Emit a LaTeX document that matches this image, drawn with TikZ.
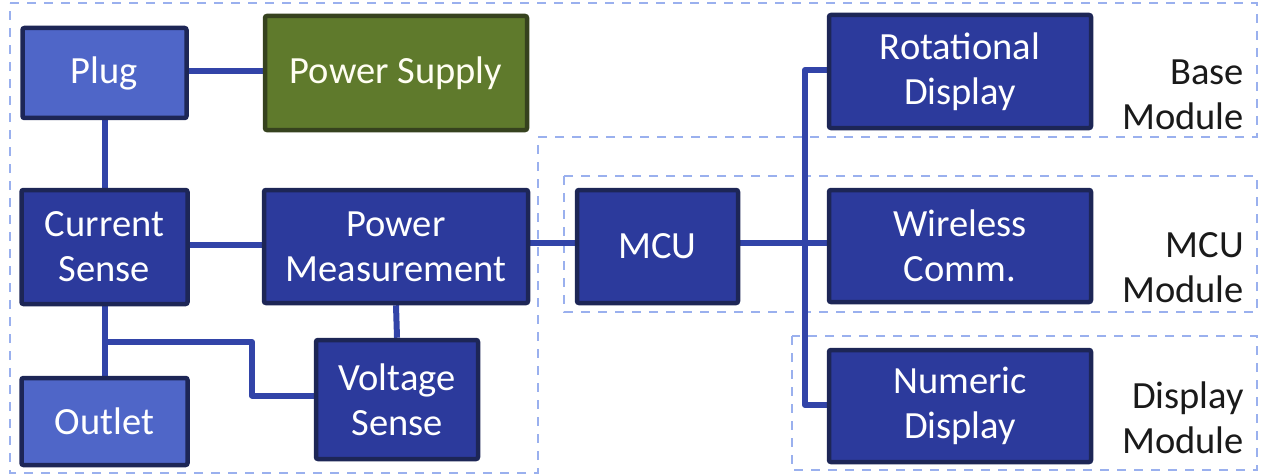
\documentclass[tikz,border=0pt]{standalone}
\usepackage{fontspec}
\setmainfont{Carlito}
\usetikzlibrary{calc,backgrounds}

\definecolor{lightfill}{HTML}{4F66C8}
\definecolor{darkfill}{HTML}{2C3A9C}
\definecolor{boxedge}{HTML}{1D2656}
\definecolor{supplyfill}{HTML}{5F7A2C}
\definecolor{supplyedge}{HTML}{36421E}
\definecolor{wire}{HTML}{3244A8}
\definecolor{zone}{HTML}{9AB0EE}
\definecolor{labeltext}{HTML}{1A1A1A}

\tikzset{
  blk/.style={draw=boxedge, line width=4.5pt, rounded corners=2pt, fill=darkfill,
    text=white, align=center, inner sep=0pt,
    font=\fontsize{38.5}{45}\selectfont},
  lightblk/.style={blk, fill=lightfill},
  supplyblk/.style={blk, draw=supplyedge, fill=supplyfill, text=white!95!yellow},
  conn/.style={draw=wire, line width=6pt, line join=round},
  zoneline/.style={draw=zone, line width=1.6pt, dash pattern=on 9pt off 8pt},
  modlabel/.style={anchor=east, align=right, text=labeltext, inner sep=0pt,
    font=\fontsize{38.5}{45}\selectfont}
}

\begin{document}
\begin{tikzpicture}[x=1pt,y=-1pt]
\useasboundingbox (0,0) rectangle (1265,476);

% functional blocks
\node[lightblk, minimum width=164pt, minimum height=90pt] (plug) at (104.5,73) {Plug};
\node[supplyblk, minimum width=262pt, minimum height=114pt] (ps) at (396,73) {Power Supply};
\node[blk, minimum width=166pt, minimum height=114pt] (cs) at (104.5,247) {Current\\Sense};
\node[blk, minimum width=264pt, minimum height=113pt] (pm) at (396,246.5) {Power\\Measurement};
\node[lightblk, minimum width=166pt, minimum height=87pt] (outlet) at (104.5,421.5) {Outlet};
\node[blk, minimum width=162pt, minimum height=119pt] (vs) at (397,399.5) {Voltage\\Sense};
\node[blk, minimum width=161pt, minimum height=113pt] (mcu) at (657.5,246.5) {MCU};
\node[blk, minimum width=262pt, minimum height=113pt] (rd) at (960,71.5) {Rotational\\Display};
\node[blk, minimum width=262pt, minimum height=112pt] (wc) at (960,246) {Wireless\\Comm.};
\node[blk, minimum width=262pt, minimum height=112pt] (nd) at (960,406) {Numeric\\Display};

% module labels
\node[modlabel] (lbase) at (1244,95) {Base\\Module};
\node[modlabel] (lmcu) at (1244,268) {MCU\\Module};
\node[modlabel] (ldisp) at (1244,418) {Display\\Module};

% routing points
\coordinate (j) at (104.5,342);
\coordinate (bend) at (252,342);
\coordinate (bus) at (805,240);

\begin{pgfonlayer}{background}
  % module outlines
  \draw[zoneline] (10,3) -- (1257,3) -- (1257,137) -- (538,137) -- (538,473) -- (10,473) -- cycle;
  \draw[zoneline] (564,176) rectangle (1257,312);
  \draw[zoneline] (792,336) rectangle (1257,470);

  % connections
  \draw[conn] (plug.east |- 0,71) -- (ps.west |- 0,71);
  \draw[conn] (plug.south) -- (cs.north);
  \draw[conn] (cs.east |- 0,245) -- (pm.west |- 0,245);
  \draw[conn] (cs.south) -- (outlet.north);
  \draw[conn] (j) -| (bend) |- ($(vs.west)+(0,-4)$);
  \draw[conn] (pm.south) -- (vs.north);
  \draw[conn] (pm.east |- 0,243) -- (mcu.west |- 0,243);
  \draw[conn] (mcu.east |- 0,243) -- (wc.west |- 0,243);
  \draw[conn] (rd.west |- 0,70) -| (bus) |- ($(nd.west)+(0,-1)$);
\end{pgfonlayer}
\end{tikzpicture}
\end{document}
